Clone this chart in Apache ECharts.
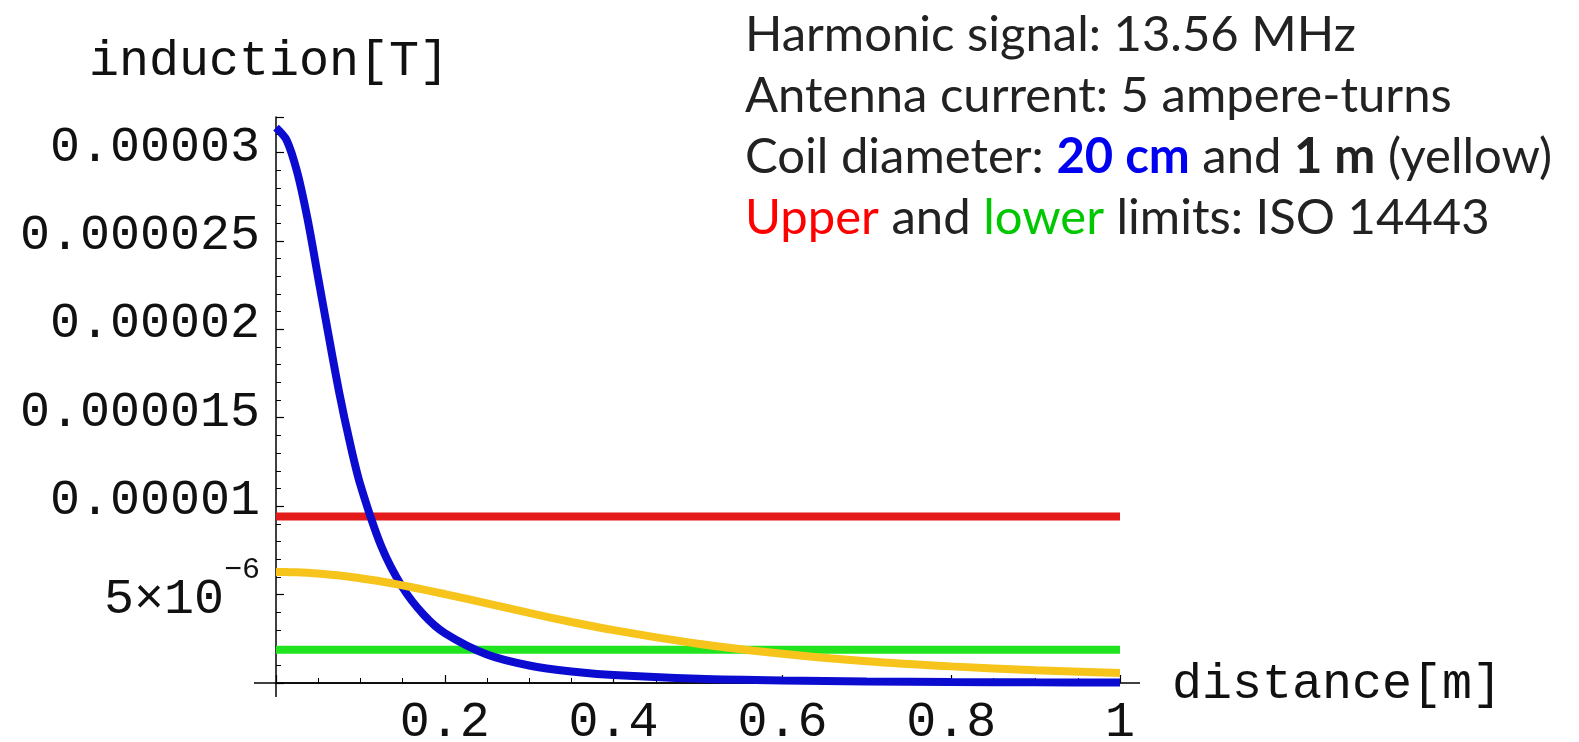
<!DOCTYPE html>
<html>
<head>
<meta charset="utf-8">
<script src="https://cdn.jsdelivr.net/npm/echarts@6/dist/echarts.min.js"></script>
<style>
    html, body { margin: 0; padding: 0; background: #fff; }
    #chart { width: 1579px; height: 742px; }
</style>
</head>
<body>
<div id="chart"></div>
<script>
// distance from coil [m]
var distance = [0, 0.0125, 0.025, 0.0375, 0.05, 0.0625, 0.075, 0.0875, 0.1, 0.125, 0.15, 0.175, 0.2, 0.25, 0.3, 0.35, 0.4, 0.5, 0.6, 0.7, 0.8, 0.9, 1];
// induction [T], coil 20 cm (blue)
var coil20cm = [3.14e-5, 3.07e-5, 2.89e-5, 2.62e-5, 2.29e-5, 1.96e-5, 1.64e-5, 1.36e-5, 1.12e-5, 7.7e-6, 5.4e-6, 3.86e-6, 2.82e-6, 1.61e-6, 9.9e-7, 6.5e-7, 4.5e-7, 2.4e-7, 1.4e-7, 9e-8, 6e-8, 4e-8, 3e-8];
// induction [T], coil 1 m (yellow)
var coil1m = [6.28e-6, 6.27e-6, 6.26e-6, 6.23e-6, 6.19e-6, 6.14e-6, 6.08e-6, 6.01e-6, 5.92e-6, 5.74e-6, 5.52e-6, 5.28e-6, 5.03e-6, 4.5e-6, 3.96e-6, 3.45e-6, 2.99e-6, 2.22e-6, 1.65e-6, 1.23e-6, 9.4e-7, 7.2e-7, 5.6e-7];
// ISO 14443 limits
var limitRange = [0, 1];
var upperLimit = [9.42e-6, 9.42e-6];
var lowerLimit = [1.88e-6, 1.88e-6];

var xTicks = [0.2, 0.4, 0.6, 0.8, 1];
var xTickLabels = ['0.2', '0.4', '0.6', '0.8', '1'];
var yTicks = [5e-6, 1e-5, 1.5e-5, 2e-5, 2.5e-5, 3e-5];
var yTickLabels = ['{b|5×10}{s|−6}', '0.00001', '0.000015', '0.00002', '0.000025', '0.00003'];

var mono = 'Liberation Mono';
var sans = 'Lato';

function pairs(xs, ys) {
    var out = [];
    for (var i = 0; i < xs.length; i++) out.push([xs[i], ys[i]]);
    return out;
}
function tickLabel(v, ticks, labels) {
    for (var i = 0; i < ticks.length; i++) {
        if (Math.abs(v - ticks[i]) < ticks[0] * 1e-4) return labels[i];
    }
    return '';
}
function note(color, bold) {
    return { fontFamily: sans, fontSize: 49, fontWeight: bold ? 'bold' : 'normal', fill: color, lineHeight: 61 };
}

var chart = echarts.init(document.getElementById('chart'));
var option = {
    animation: false,
    backgroundColor: '#fff',
    grid: {
        left: 276,
        top: 117,
        right: 459,
        bottom: 59,
        outerBoundsMode: 'none'
    },
    xAxis: {
        type: 'value',
        min: 0,
        max: 1,
        interval: 0.2,
        axisLine: { show: true, lineStyle: { color: '#000', width: 1.5 } },
        axisTick: { show: true, inside: true, length: 8, lineStyle: { color: '#000', width: 1.2 } },
        minorTick: { show: true, splitNumber: 4, length: 5, lineStyle: { color: '#000', width: 1 } },
        splitLine: { show: false },
        axisLabel: {
            showMinLabel: false,
            margin: 15,
            fontFamily: mono,
            fontSize: 50,
            color: '#111',
            formatter: function (v) { return tickLabel(v, xTicks, xTickLabels); }
        }
    },
    yAxis: {
        type: 'value',
        min: 0,
        max: 3.2e-5,
        interval: 5e-6,
        axisLine: { show: true, lineStyle: { color: '#000', width: 1.5 } },
        axisTick: { show: true, inside: true, length: 8, lineStyle: { color: '#000', width: 1.2 } },
        minorTick: { show: true, splitNumber: 5, length: 5, lineStyle: { color: '#000', width: 1 } },
        splitLine: { show: false },
        axisLabel: {
            showMinLabel: false,
            margin: 16,
            padding: [0, 0, 10, 0],
            fontFamily: mono,
            fontSize: 50,
            color: '#111',
            formatter: function (v) { return tickLabel(v, yTicks, yTickLabels); },
            rich: {
                b: { fontFamily: mono, fontSize: 50, color: '#111', lineHeight: 70, verticalAlign: 'bottom' },
                s: { fontFamily: mono, fontSize: 30, color: '#111', verticalAlign: 'top' }
            }
        }
    },
    series: [
        {
            name: 'upper',
            type: 'line',
            data: pairs(limitRange, upperLimit),
            showSymbol: false,
            lineStyle: { color: '#e41b1b', width: 8, cap: 'butt' }
        },
        {
            name: 'lower',
            type: 'line',
            data: pairs(limitRange, lowerLimit),
            showSymbol: false,
            lineStyle: { color: '#1fe41f', width: 8, cap: 'butt' }
        },
        {
            name: '20 cm',
            type: 'line',
            data: pairs(distance, coil20cm),
            showSymbol: false,
            smooth: 0.3,
            lineStyle: { color: '#0c0cd0', width: 8, cap: 'butt' }
        },
        {
            name: '1 m',
            type: 'line',
            data: pairs(distance, coil1m),
            showSymbol: false,
            smooth: 0.3,
            lineStyle: { color: '#f6c41a', width: 8, cap: 'butt' }
        }
    ],
    graphic: [
        {
            id: 'yname',
            type: 'text',
            left: 89,
            top: 37,
            style: { text: 'induction[T]', font: '50px "' + mono + '"', fill: '#111' }
        },
        {
            id: 'xname',
            type: 'text',
            left: 1172,
            top: 660,
            style: { text: 'distance[m]', font: '50px "' + mono + '"', fill: '#111' }
        },
        {
            id: 'notes',
            type: 'text',
            left: 745,
            top: 11,
            style: {
                text: '{n|Harmonic signal: 13.56 MHz}\n' +
                    '{n|Antenna current: 5 ampere-turns}\n' +
                    '{n|Coil diameter: }{bl|20 cm}{n| and }{bk|1 m}{n| (yellow)}\n' +
                    '{r|Upper}{n| and }{g|lower}{n| limits: ISO 14443}',
                rich: {
                    n: note('#222'),
                    bl: note('#0000f0', true),
                    bk: note('#222', true),
                    r: note('#ff0000'),
                    g: note('#00c800')
                }
            }
        }
    ]
};
chart.setOption(option);

// Mathematica-style axes run a little past the plot range
var o = chart.convertToPixel({ gridIndex: 0 }, [0, 0]);
var e = chart.convertToPixel({ gridIndex: 0 }, [1, 0]);
chart.setOption({
    graphic: [
        { id: 'xext', type: 'line', shape: { x1: o[0] - 22, y1: o[1], x2: e[0] + 20, y2: o[1] }, style: { stroke: '#000', lineWidth: 1.5 } },
        { id: 'yext', type: 'line', shape: { x1: o[0], y1: o[1], x2: o[0], y2: o[1] + 14 }, style: { stroke: '#000', lineWidth: 1.5 } }
    ]
});
</script>
</body>
</html>
